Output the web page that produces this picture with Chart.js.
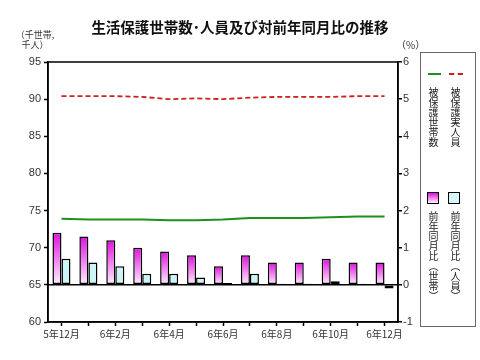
<!DOCTYPE html>
<html>
<head>
<meta charset="utf-8">
<script src="https://cdn.jsdelivr.net/npm/chart.js@4"></script>
<style>
body { margin: 0; background: #fff; font-family: "Noto Sans CJK JP", sans-serif; }
#wrap { position: relative; width: 480px; height: 360px; }
#title { position: absolute; left: 0; width: 480px; top: 16px; text-align: center; font-size: 14.5px; font-weight: bold; color: #111; }
#unitL { position: absolute; left: 12px; top: 30px; width: 46px; text-align: center; font-size: 9px; line-height: 10px; color: #333; }
#unitR { position: absolute; left: 396px; top: 37px; font-size: 10px; color: #333; }
#legend { position: absolute; left: 420px; top: 52px; width: 56px; height: 275px; border: 1px solid #666; box-sizing: border-box; }
.vt { position: absolute; writing-mode: vertical-rl; font-size: 10px; line-height: 12px; color: #222; }
.sw { position: absolute; width: 12px; height: 12px; border: 1.5px solid #000; box-sizing: border-box; }
</style>
</head>
<body>
<div id="wrap">
  <canvas id="c" width="480" height="360"></canvas>
  <div id="title">生活保護世帯数･人員及び対前年同月比の推移</div>
  <div id="unitL">（千世帯,<br>千人）</div>
  <div id="unitR">（%）</div>
  <div id="legend">
    <div style="position:absolute;left:7px;top:20px;width:13px;border-top:2px solid #1f8f1f;"></div>
    <div style="position:absolute;left:28px;top:20px;width:14px;border-top:2px dashed #cc2020;"></div>
    <div class="vt" style="left:6px;top:34px;">被保護世帯数</div>
    <div class="vt" style="left:28px;top:34px;">被保護実人員</div>
    <div class="sw" style="left:6px;top:139px;background:linear-gradient(#e010e0,#fff0ff);"></div>
    <div class="sw" style="left:27px;top:139px;background:#d4f8f8;"></div>
    <div class="vt" style="left:6px;top:158px;">前年同月比（世帯）</div>
    <div class="vt" style="left:28px;top:158px;">前年同月比（人員）</div>
  </div>
</div>
<script>
// months shown on the x axis
const months = ["5年12月", "6年1月", "6年2月", "6年3月", "6年4月", "6年5月", "6年6月",
                "6年7月", "6年8月", "6年9月", "6年10月", "6年11月", "6年12月"];

// 被保護世帯数 / 被保護実人員 (千世帯, 千人)
const households = [73.9, 73.8, 73.8, 73.8, 73.7, 73.7, 73.8, 74.0, 74.0, 74.0, 74.1, 74.2, 74.2];
const persons = [90.4, 90.4, 90.4, 90.3, 90.0, 90.1, 90.0, 90.2, 90.3, 90.3, 90.3, 90.4, 90.4];

// 前年同月比 (%)
const yoyHouseholds = [1.4, 1.3, 1.2, 1.0, 0.9, 0.8, 0.5, 0.8, 0.6, 0.6, 0.7, 0.6, 0.6];
const yoyPersons = [0.7, 0.6, 0.5, 0.3, 0.3, 0.2, 0.05, 0.3, 0.03, 0.03, 0.1, 0.03, -0.1];

function magentaFill(ctx) {
    let chart = ctx.chart;
    let s = chart.scales.y1;
    if (!s || ctx.type !== "data") return "#e010e0";
    let top = s.getPixelForValue(ctx.raw);
    let base = s.getPixelForValue(0);
    if (!isFinite(top) || !isFinite(base) || Math.abs(base - top) < 1) return "#e010e0";
    let g = chart.ctx.createLinearGradient(0, top, 0, base);
    g.addColorStop(0, "#e010e0");
    g.addColorStop(1, "#fff2ff");
    return g;
}

// draw the box round the plot
const frame = {
    id: "frame",
    afterDraw(chart) {
        let a = chart.chartArea;
        let c = chart.ctx;
        c.save();
        c.strokeStyle = "#000";
        c.lineWidth = 1.5;
        c.strokeRect(a.left, a.top, a.right - a.left, a.bottom - a.top);
        c.restore();
    }
};

const tickFont = { family: "'Liberation Sans', Arial, sans-serif", size: 11 };

new Chart(document.getElementById("c"), {
    data: {
        labels: months,
        datasets: [
            { type: "line", label: "被保護世帯数", data: households, yAxisID: "y",
              borderColor: "#1f8f1f", borderWidth: 1.8, pointRadius: 0, order: 0 },
            { type: "line", label: "被保護実人員", data: persons, yAxisID: "y",
              borderColor: "#cc2020", borderWidth: 1.8, borderDash: [5, 3], pointRadius: 0, order: 0 },
            { type: "bar", label: "前年同月比（世帯）", data: yoyHouseholds, yAxisID: "y1",
              backgroundColor: magentaFill, borderColor: "#000", borderWidth: 1.5, borderSkipped: false,
              categoryPercentage: 0.67, barPercentage: 1.0, order: 1 },
            { type: "bar", label: "前年同月比（人員）", data: yoyPersons, yAxisID: "y1",
              backgroundColor: "#ccf6f6", borderColor: "#000", borderWidth: 1.5, borderSkipped: false,
              categoryPercentage: 0.67, barPercentage: 1.0, order: 1 }
        ]
    },
    options: {
        responsive: false,
        animation: false,
        layout: { padding: { left: 0, right: 60, top: 62, bottom: 14 } },
        plugins: { legend: { display: false }, tooltip: { enabled: false } },
        scales: {
            x: {
                offset: true,
                afterFit(s) { s.height = 24; },
                grid: { drawOnChartArea: false, offset: false, tickLength: 4, tickColor: "#000", tickWidth: 1.5 },
                border: { color: "#000", width: 1.5 },
                ticks: {
                    autoSkip: false, maxRotation: 0, padding: 2, color: "#333",
                    font: { family: "'Noto Sans CJK JP', sans-serif", size: 10 },
                    callback(v, i) { return i % 2 === 0 ? months[i] : ""; }
                }
            },
            y: {
                position: "left", min: 60, max: 95,
                afterFit(s) { s.width = 48; },
                grid: { drawOnChartArea: false, tickLength: 4, tickColor: "#000", tickWidth: 1.5 },
                border: { color: "#000", width: 1.5 },
                ticks: { stepSize: 5, padding: 3, color: "#333", font: tickFont }
            },
            y1: {
                position: "right", min: -1, max: 6,
                afterFit(s) { s.width = 22; },
                grid: {
                    drawOnChartArea: true, tickLength: 4, tickColor: "#000", tickWidth: 1.5,
                    color: ctx => ctx.tick && ctx.tick.value === 0 ? "#000" : "rgba(0,0,0,0)",
                    lineWidth: 1.5
                },
                border: { color: "#000", width: 1.5 },
                ticks: { stepSize: 1, padding: 1, color: "#333", font: tickFont }
            }
        }
    },
    plugins: [frame]
});
</script>
</body>
</html>
